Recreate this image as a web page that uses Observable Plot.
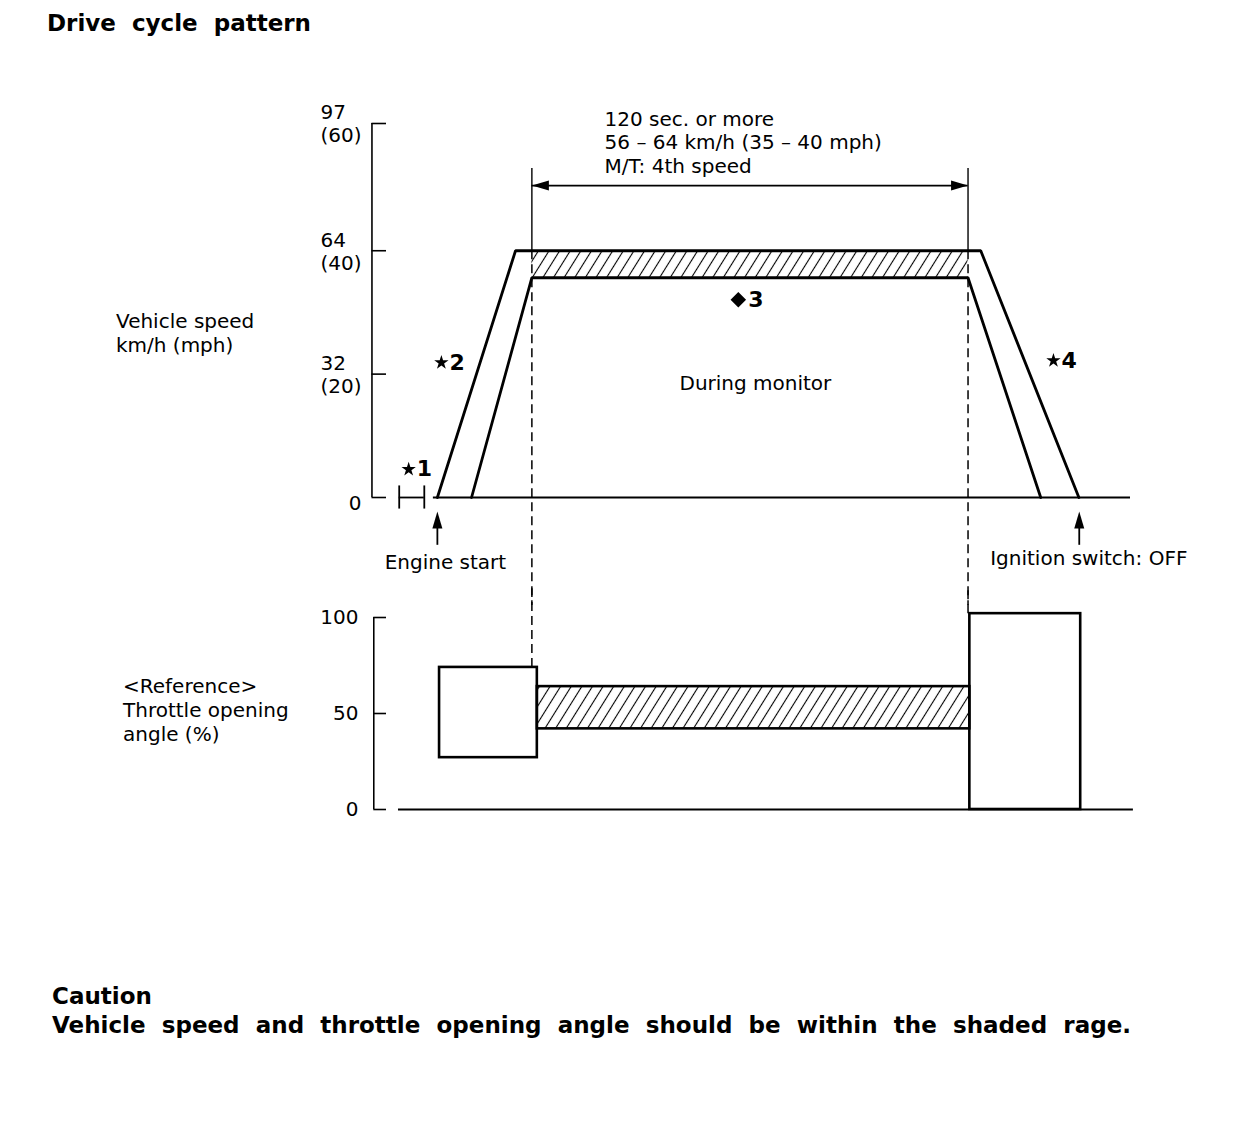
<!DOCTYPE html>
<html>
<head>
<meta charset="utf-8">
<script src="https://cdn.jsdelivr.net/npm/d3@7"></script>
<script src="https://cdn.jsdelivr.net/npm/@observablehq/plot@0.6"></script>
<style>
  html, body { margin: 0; padding: 0; background: #fff; }
  #page { position: relative; width: 1248px; height: 1134px; overflow: hidden; font-family: "DejaVu Sans", sans-serif; color: #000; }
  .abs { position: absolute; }
  #title { left: 47px; top: 10px; width: 264px; font-size: 23px; line-height: 27px; font-weight: bold; text-align: justify; text-align-last: justify; }
  .ylab { font-size: 20px; line-height: 24px; }
  #caption { left: 52px; top: 982px; width: 1079px; font-size: 23px; line-height: 29px; font-weight: bold; }
  #caption .l2 { text-align: justify; text-align-last: justify; }
  #topChart { left: 0; top: 0; }
  #botChart { left: 0; top: 590px; }
  svg { background: transparent; overflow: visible; }
</style>
</head>
<body>
<div id="page">
  <div id="title" class="abs">Drive cycle pattern</div>
  <div id="topChart" class="abs"></div>
  <div id="botChart" class="abs"></div>
  <div class="abs ylab" style="left:116px; top:309px;">Vehicle speed<br>km/h (mph)</div>
  <div class="abs ylab" style="left:123px; top:674px;">&lt;Reference&gt;<br>Throttle opening<br>angle (%)</div>
  <div id="caption" class="abs"><div>Caution</div><div class="l2">Vehicle speed and throttle opening angle should be within the shaded rage.</div></div>
</div>
<script>
// ---------------- data ----------------
// time axis in seconds (0 = engine start); monitoring window is 120 s
const speedTicks = [0, 32, 64, 97];        // km/h
const mphTicks = [0, 20, 40, 60];          // mph
const throttleTicks = [0, 50, 100];        // %

// vehicle speed envelope (upper / earlier boundary)
const outerTime = [0, 21.5, 149.5, 176.5];
const outerSpeed = [0, 64, 64, 0];
// vehicle speed envelope (lower / later boundary)
const innerTime = [9.4, 26, 146, 166];
const innerSpeed = [0, 57, 57, 0];
// monitoring window & target band
const monitorStart = 26, monitorEnd = 146;
const bandLow = 57, bandHigh = 64;

// reference throttle opening angle
const throttlePhase = ["accel", "cruise", "decel"];
const throttleStart = [0.6, 27.5, 146.5];
const throttleEnd = [27.5, 146.5, 177];
const throttleLow = [27, 42, 0];
const throttleHigh = [74, 64, 102];

// annotations (time s, speed km/h)
const starLabels = ["1", "2", "4"];
const starTime = [-7.9, 1.1, 169.5];
const starSpeed = [7.3, 35, 35.5];
const engineStartTime = 0;
const ignitionOffTime = 176.6;

// ---------------- chart ----------------
const W = 1248;
const xDomain = [-18.4, 190.7];
const font = "DejaVu Sans";
const head = {draw(ctx) { ctx.moveTo(0, 0); ctx.lineTo(-5, 17); ctx.lineTo(5, 17); ctx.closePath(); }};

const outer = outerTime.map((t, i) => ({t, v: outerSpeed[i]}));
const inner = innerTime.map((t, i) => ({t, v: innerSpeed[i]}));
const stars = starLabels.map((s, i) => ({s, t: starTime[i], v: starSpeed[i]}));
const throttle = throttlePhase.map((p, i) => ({p, t1: throttleStart[i], t2: throttleEnd[i], lo: throttleLow[i], hi: throttleHigh[i]}));

function addHatch(svg, id) {
  const defs = d3.select(svg).insert("defs", ":first-child");
  const p = defs.append("pattern").attr("id", id)
    .attr("patternUnits", "userSpaceOnUse").attr("width", 9).attr("height", 9)
    .attr("patternTransform", "rotate(32)");
  p.append("line").attr("x1", 4.5).attr("y1", -1).attr("x2", 4.5).attr("y2", 10)
    .attr("stroke", "#000").attr("stroke-width", 1.1);
}

const topPlot = Plot.plot({
  width: W, height: 600,
  marginLeft: 370, marginRight: 118, marginTop: 123, marginBottom: 103,
  x: {domain: xDomain, axis: null},
  y: {domain: [0, 97], axis: null},
  style: {fontFamily: font, fontSize: "20px", background: "transparent", overflow: "visible"},
  marks: [
    Plot.rect([{a: monitorStart, b: monitorEnd, lo: bandLow, hi: bandHigh}], {x1: "a", x2: "b", y1: "lo", y2: "hi", fill: "url(#hatchTop)"}),
    // axis
    Plot.ruleX([{t: -18, lo: 0, hi: 97}], {x: "t", y1: "lo", y2: "hi", strokeWidth: 1.6}),
    Plot.ruleY(speedTicks, {y: d => d, x1: () => -18, x2: () => -14, strokeWidth: 1.6}),
    Plot.text(speedTicks.filter(d => d > 0), {y: d => d, text: d => `${d}\n(${mphTicks[speedTicks.indexOf(d)]})`, frameAnchor: "left", dx: -50, textAnchor: "start", lineAnchor: "middle", lineHeight: 1.15, fontSize: 20}),
    Plot.text([0], {y: d => d, text: d => `${d}`, frameAnchor: "left", dx: -9, dy: 6, textAnchor: "end", fontSize: 20}),
    // baseline
    Plot.ruleY([{v: 0, a: -1.1, b: 190.7}], {y: "v", x1: "a", x2: "b", strokeWidth: 2.2}),
    // *1 bracket
    Plot.ruleY([{v: 0, a: -10.5, b: -3.6}], {y: "v", x1: "a", x2: "b", strokeWidth: 1.8}),
    Plot.ruleX([-10.5, -3.6], {x: d => d, y1: () => -3, y2: () => 3, strokeWidth: 1.8}),
    // extension & dimension lines
    Plot.ruleX([monitorStart, monitorEnd], {x: d => d, y1: () => bandHigh, y2: () => 85.3, strokeWidth: 1.4}),
    Plot.ruleX([monitorStart, monitorEnd], {x: d => d, y1: () => bandHigh, y2: () => -28, strokeWidth: 1.5, strokeDasharray: "9,5"}),
    Plot.ruleY([80.9], {y: d => d, x1: () => monitorStart, x2: () => monitorEnd, strokeWidth: 1.6}),
    Plot.dot([{t: monitorStart, r: -90}, {t: monitorEnd, r: 90}], {x: "t", y: () => 80.9, rotate: "r", symbol: head, fill: "#000", stroke: null}),
    // speed envelopes
    Plot.line(outer, {x: "t", y: "v", strokeWidth: 2.8, strokeLinejoin: "miter"}),
    Plot.line(inner, {x: "t", y: "v", strokeWidth: 2.8, strokeLinejoin: "miter"}),
    // arrows: engine start / ignition off
    Plot.ruleX([engineStartTime, ignitionOffTime], {x: d => d, y1: () => -12.4, y2: () => -7, strokeWidth: 1.8}),
    Plot.dot([engineStartTime, ignitionOffTime], {x: d => d, y: () => -3.6, symbol: head, fill: "#000", stroke: null}),
    Plot.text(["Engine start"], {x: () => 2.2, y: () => -16.9, text: d => d, textAnchor: "middle", fontSize: 20}),
    Plot.text(["Ignition switch: OFF"], {x: () => 152.1, y: () => -15.8, text: d => d, textAnchor: "start", fontSize: 20}),
    // header text
    Plot.text(["120 sec. or more\n56 – 64 km/h (35 – 40 mph)\nM/T: 4th speed"], {x: () => 46, y: () => 92.3, text: d => d, textAnchor: "start", lineAnchor: "middle", lineHeight: 1.175, fontSize: 20}),
    Plot.text(["During monitor"], {x: () => 87.5, y: () => 29.6, text: d => d, textAnchor: "middle", fontSize: 20}),
    // markers
    Plot.dot(stars, {x: "t", y: "v", symbol: "star", r: 4.5, fill: "#000", stroke: null}),
    Plot.text(stars, {x: "t", y: "v", text: "s", dx: 8, textAnchor: "start", fontWeight: "bold", fontSize: 22}),
    Plot.dot([{t: 82.8, v: 51.3}], {x: "t", y: "v", symbol: "diamond2", r: 7, fill: "#000", stroke: null}),
    Plot.text([{t: 82.8, v: 51.3}], {x: "t", y: "v", text: () => "3", dx: 10, textAnchor: "start", fontWeight: "bold", fontSize: 22})
  ]
});
addHatch(topPlot, "hatchTop");
document.getElementById("topChart").appendChild(topPlot);

const botPlot = Plot.plot({
  width: W, height: 250,
  marginLeft: 370, marginRight: 118, marginTop: 27, marginBottom: 31,
  x: {domain: xDomain, axis: null},
  y: {domain: [0, 100], axis: null},
  style: {fontFamily: font, fontSize: "20px", background: "transparent", overflow: "visible"},
  marks: [
    Plot.ruleX([monitorStart, monitorEnd], {x: d => d, y1: (d, i) => throttleHigh[i === 0 ? 0 : 2], y2: () => 115, strokeWidth: 1.5, strokeDasharray: "9,5"}),
    Plot.rect(throttle, {x1: "t1", x2: "t2", y1: "lo", y2: "hi", fill: d => d.p === "cruise" ? "url(#hatchBot)" : "none", stroke: "#000", strokeWidth: 2.6}),
    Plot.ruleX([{t: -17.5, lo: 0, hi: 100}], {x: "t", y1: "lo", y2: "hi", strokeWidth: 1.6}),
    Plot.ruleY(throttleTicks, {y: d => d, x1: () => -17.5, x2: () => -14, strokeWidth: 1.6}),
    Plot.text(throttleTicks, {y: d => d, text: d => `${d}`, frameAnchor: "left", dx: -12, textAnchor: "end", fontSize: 20}),
    Plot.ruleY([{v: 0, a: -10.7, b: 191.5}], {y: "v", x1: "a", x2: "b", strokeWidth: 2})
  ]
});
addHatch(botPlot, "hatchBot");
document.getElementById("botChart").appendChild(botPlot);
</script>
</body>
</html>
